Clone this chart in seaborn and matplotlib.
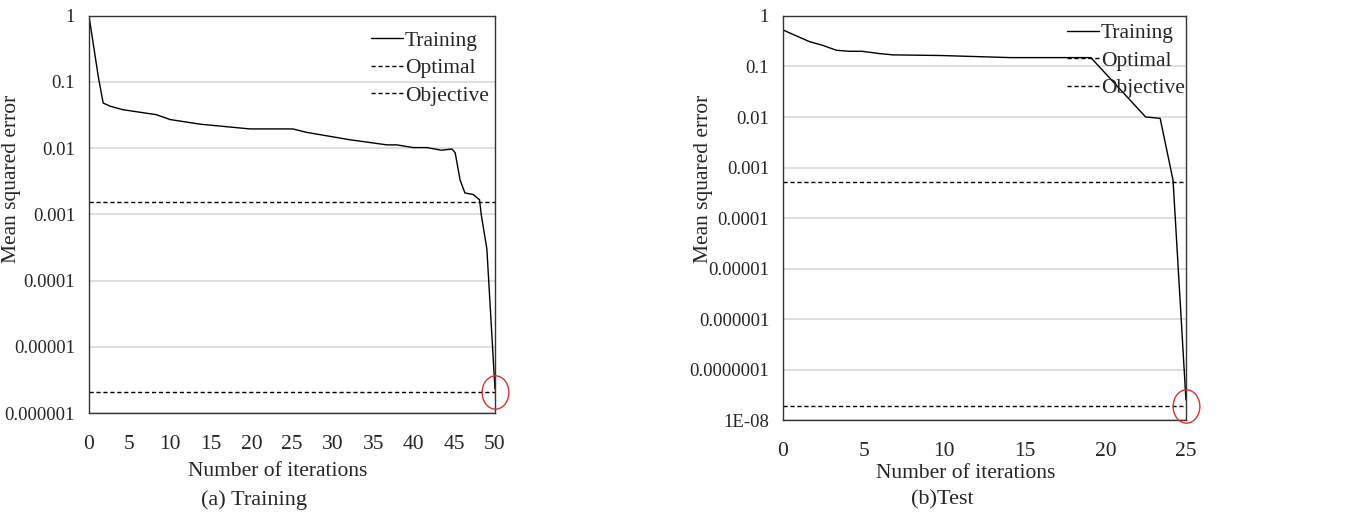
import numpy as np
import pandas as pd
import matplotlib
matplotlib.use('Agg')
import matplotlib.pyplot as plt
import seaborn as sns
from matplotlib.path import Path
from matplotlib.transforms import Affine2D

# (a) Training
train_iter = [0, 1.15, 1.75, 2.6, 4.2, 8.3, 10, 13.7, 19.8, 25.1, 26.8, 32.1, 36.7, 37.9,
              39.9, 41.6, 43.4, 44.7, 45.1, 45.7, 46.3, 47.3, 48.1, 48.3, 49, 50]
train_mse = [1.0, 0.12, 0.048, 0.043, 0.038, 0.032, 0.027, 0.023, 0.0195, 0.0195, 0.0173,
             0.0134, 0.0112, 0.0112, 0.0102, 0.0102, 0.0093, 0.0097, 0.0085, 0.0033,
             0.0021, 0.0020, 0.00166, 0.001, 0.0003, 2.3e-6]
train_optimal = 0.00155
train_objective = 2.1e-6

# (b) Test
test_iter = [0, 0.7, 1.65, 2.5, 3.3, 4.1, 4.9, 6, 6.8, 9.8, 14.1, 19.1, 22.5, 23.4, 24.2, 25]
test_mse = [0.53, 0.42, 0.31, 0.26, 0.21, 0.20, 0.20, 0.18, 0.17, 0.165, 0.15, 0.15,
            0.01, 0.0094, 0.00056, 2.5e-8]
test_optimal = 0.00051
test_objective = 1.9e-8

train_yticks = [1, 0.1, 0.01, 0.001, 0.0001, 0.00001, 0.000001]
train_ylabels = ['1', '0.1', '0.01', '0.001', '0.0001', '0.00001', '0.000001']
test_yticks = [1, 0.1, 0.01, 0.001, 0.0001, 1e-5, 1e-6, 1e-7, 1e-8]
test_ylabels = ['1', '0.1', '0.01', '0.001', '0.0001', '0.00001', '0.000001',
                '0.0000001', '1E-08']

sns.set_theme(style='white')
plt.rcParams['font.family'] = ['Liberation Serif', 'DejaVu Serif']

fig = plt.figure(figsize=(13.58, 5.16), dpi=100)
ax1 = fig.add_axes([0.0655, 0.1996, 0.299, 0.770])
ax2 = fig.add_axes([0.5766, 0.186, 0.2967, 0.783])

ellipse = Path.unit_circle().transformed(Affine2D().scale(0.8, 1.0))


def draw_panel(ax, x, y, optimal, objective, xmax, yticks, ylabels, ymin, leg_anchor):
    df = pd.DataFrame({'iter': x, 'mse': y})
    sns.lineplot(data=df, x='iter', y='mse', ax=ax, color='black', lw=1.0,
                 label='Training', legend=False)
    ax.axhline(optimal, color='black', lw=1.0, ls=(0, (3, 2)), label='Optimal')
    ax.axhline(objective, color='black', lw=1.0, ls=(0, (3, 2)), label='Objective')
    ax.plot([x[-1]], [objective], marker=ellipse, ms=24, mfc='none', mec='#e03030',
            mew=1.0, clip_on=False, zorder=5)
    ax.set_yscale('log')
    ax.set_ylim(ymin, 1)
    ax.set_xlim(0, xmax)
    ax.set_xticks(np.arange(0, xmax + 1, 5))
    ax.set_yticks(yticks)
    ax.set_yticklabels(ylabels)
    ax.yaxis.set_minor_locator(plt.NullLocator())
    ax.grid(axis='y', color='#d9d9d9', lw=1.2)
    ax.set_axisbelow(True)
    ax.tick_params(axis='y', labelsize=13.5, length=0, pad=10)
    ax.tick_params(axis='x', labelsize=15.5, length=0, pad=16)
    for s in ax.spines.values():
        s.set_color('#333333')
        s.set_linewidth(1.0)
    ax.set_xlabel('Number of iterations', fontsize=15.5)
    ax.set_ylabel('Mean squared error', fontsize=15.5)
    ax.legend(loc='upper right', bbox_to_anchor=leg_anchor, frameon=False, fontsize=15.5,
              handlelength=1.5, handletextpad=0.1, labelspacing=0.35, borderaxespad=0.3)


draw_panel(ax1, train_iter, train_mse, train_optimal, train_objective, 50,
           train_yticks, train_ylabels, 1e-6, (1.022, 1.0))
draw_panel(ax2, test_iter, test_mse, test_optimal, test_objective, 25,
           test_yticks, test_ylabels, 1e-8, (1.035, 1.02))

ax1.xaxis.set_label_coords(0.466, -0.123)
ax1.yaxis.set_label_coords(-0.167, 0.59)
ax2.xaxis.set_label_coords(0.453, -0.109)
ax2.yaxis.set_label_coords(-0.174, 0.597)

fig.text(254 / 1358, 1 - 500 / 516, '(a) Training', ha='center', va='center', fontsize=16)
fig.text(942 / 1358, 1 - 500 / 516, '(b)Test', ha='center', va='center', fontsize=16)

fig.savefig('out.png', dpi=100)
